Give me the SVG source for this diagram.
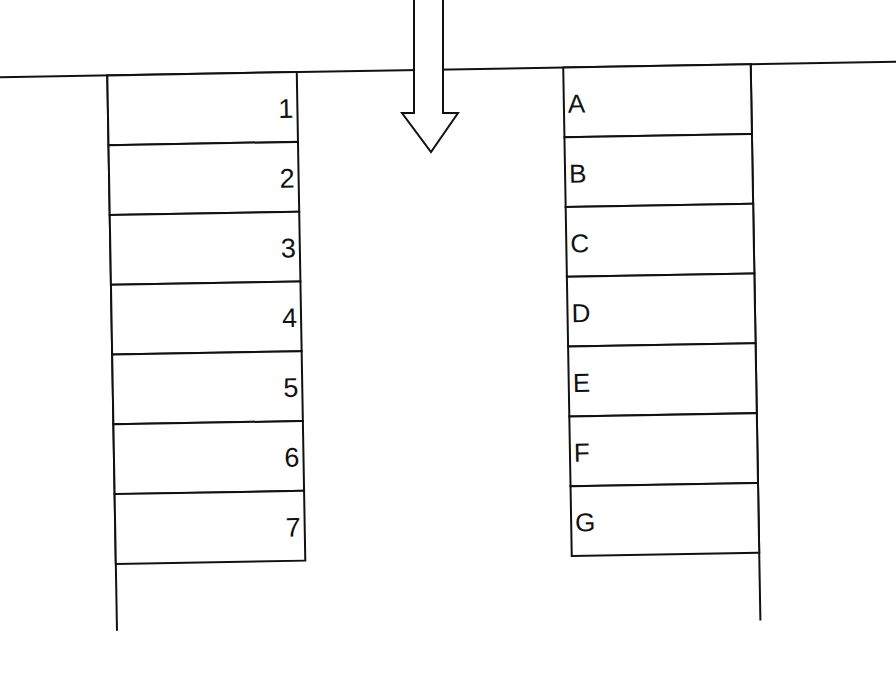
<svg xmlns="http://www.w3.org/2000/svg" width="896" height="685" viewBox="0 0 896 685">
<style>
.ln{stroke:#111;stroke-width:2;fill:none;stroke-linecap:square}
.cell{stroke:#111;stroke-width:2;fill:#fff}
.lbl{font-family:"Liberation Sans",Arial,sans-serif;font-size:26px;fill:#111}
.r{text-anchor:end;font-size:27px}
</style>
<rect width="896" height="685" fill="#fff"/>
<g transform="rotate(-1 448 342)">
<g id="structure">
<line class="ln" x1="-20" y1="69.5" x2="920" y2="69.5"/>
<line class="ln" x1="112" y1="69.5" x2="112" y2="624"/>
<line class="ln" x1="755.5" y1="69.5" x2="755.5" y2="625"/>
</g>
<g id="left-column">
<g id="cell-1"><rect class="cell" x="112" y="69.5" width="189.5" height="69.8"/><text class="lbl r" x="297.5" y="115">1</text></g>
<g id="cell-2"><rect class="cell" x="112" y="139.3" width="189.5" height="69.8"/><text class="lbl r" x="297.5" y="184.8">2</text></g>
<g id="cell-3"><rect class="cell" x="112" y="209.1" width="189.5" height="69.8"/><text class="lbl r" x="297.5" y="254.6">3</text></g>
<g id="cell-4"><rect class="cell" x="112" y="278.9" width="189.5" height="69.8"/><text class="lbl r" x="297.5" y="324.4">4</text></g>
<g id="cell-5"><rect class="cell" x="112" y="348.7" width="189.5" height="69.8"/><text class="lbl r" x="297.5" y="394.2">5</text></g>
<g id="cell-6"><rect class="cell" x="112" y="418.5" width="189.5" height="69.8"/><text class="lbl r" x="297.5" y="464">6</text></g>
<g id="cell-7"><rect class="cell" x="112" y="488.3" width="189.5" height="69.8"/><text class="lbl r" x="297.5" y="533.8">7</text></g>
</g>
<g id="right-column">
<g id="cell-A"><rect class="cell" x="568" y="69.5" width="187.5" height="69.8"/><text class="lbl" x="572" y="115">A</text></g>
<g id="cell-B"><rect class="cell" x="568" y="139.3" width="187.5" height="69.8"/><text class="lbl" x="572" y="184.8">B</text></g>
<g id="cell-C"><rect class="cell" x="568" y="209.1" width="187.5" height="69.8"/><text class="lbl" x="572" y="254.6">C</text></g>
<g id="cell-D"><rect class="cell" x="568" y="278.9" width="187.5" height="69.8"/><text class="lbl" x="572" y="324.4">D</text></g>
<g id="cell-E"><rect class="cell" x="568" y="348.7" width="187.5" height="69.8"/><text class="lbl" x="572" y="394.2">E</text></g>
<g id="cell-F"><rect class="cell" x="568" y="418.5" width="187.5" height="69.8"/><text class="lbl" x="572" y="464">F</text></g>
<g id="cell-G"><rect class="cell" x="568" y="488.3" width="187.5" height="69.8"/><text class="lbl" x="572" y="533.8">G</text></g>
</g>
</g>
<g id="connectors">
<g id="arrow">
<polygon class="cell" points="414,-5 443,-5 443,113 458,113 431,152 402,113 414,113"/>
</g>
</g>
</svg>
